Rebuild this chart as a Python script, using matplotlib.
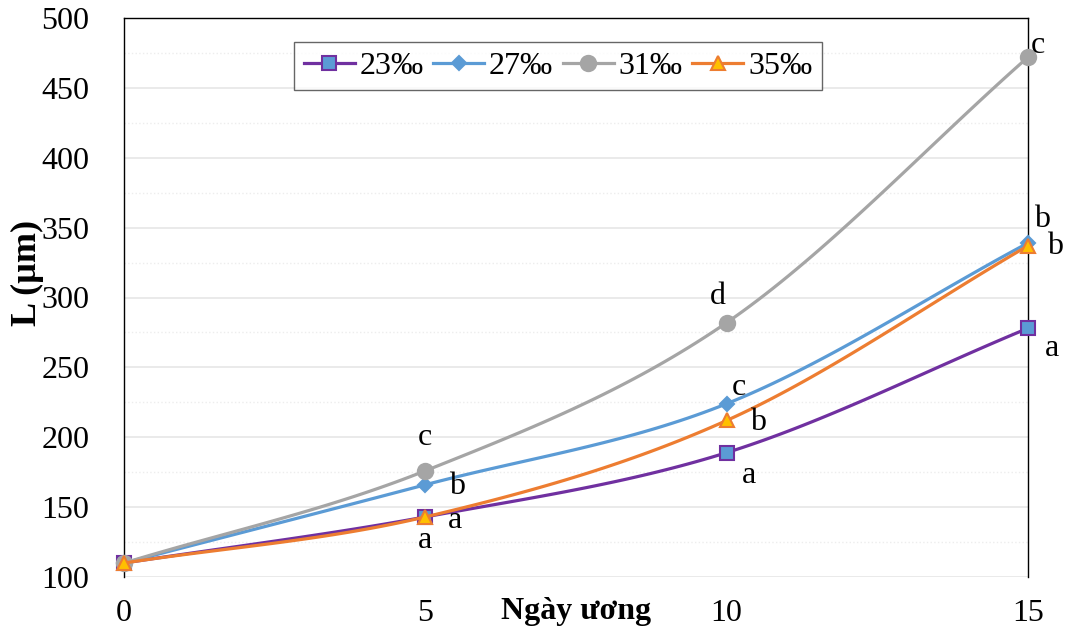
import numpy as np
import matplotlib.pyplot as plt
from matplotlib.ticker import MultipleLocator

# data
days = [0, 5, 10, 15]
labels = ['23‰', '27‰', '31‰', '35‰']
len_23 = [110, 143, 189, 278]
len_27 = [110, 166, 224, 339]
len_31 = [110, 176, 282, 472]
len_35 = [110, 143, 212, 337]
letters_23 = ['', 'a', 'a', 'a']
letters_27 = ['', 'b', 'c', 'b']
letters_31 = ['', 'c', 'd', 'c']
letters_35 = ['', 'a', 'b', 'b']

plt.rcParams['font.family'] = ['Liberation Serif', 'DejaVu Serif']


def smooth(x, y, n=40):
    # Catmull-Rom curve through the points, like Excel's smoothed line
    x = np.asarray(x, float)
    y = np.asarray(y, float)
    px = np.concatenate([[2 * x[0] - x[1]], x, [2 * x[-1] - x[-2]]])
    py = np.concatenate([[2 * y[0] - y[1]], y, [2 * y[-1] - y[-2]]])
    xs, ys = [], []
    t = np.linspace(0, 1, n)
    for i in range(1, len(px) - 2):
        for p, out in ((px, xs), (py, ys)):
            p0, p1, p2, p3 = p[i - 1], p[i], p[i + 1], p[i + 2]
            out.extend(0.5 * ((2 * p1) + (-p0 + p2) * t
                              + (2 * p0 - 5 * p1 + 4 * p2 - p3) * t ** 2
                              + (-p0 + 3 * p1 - 3 * p2 + p3) * t ** 3))
    return xs, ys


fig = plt.figure(figsize=(10.7, 6.34), dpi=100)
ax = fig.add_axes([124 / 1070, 57 / 634, 904 / 1070, 559 / 634])

series = [
    (len_23, letters_23, '#7030A0', 's', '#5B9BD5', '#7030A0', 10),
    (len_27, letters_27, '#5B9BD5', 'D', '#5B9BD5', '#5B9BD5', 7),
    (len_31, letters_31, '#A5A5A5', 'o', '#A5A5A5', '#A5A5A5', 11),
    (len_35, letters_35, '#ED7D31', '^', '#FFC000', '#ED7D31', 10),
]

offsets = {
    (0, 1): (0, -24), (0, 2): (22, -23), (0, 3): (24, -20),
    (1, 1): (32, -2), (1, 2): (12, 16), (1, 3): (14, 23),
    (2, 1): (0, 33), (2, 2): (-9, 26), (2, 3): (10, 12),
    (3, 1): (30, -4), (3, 2): (31, -2), (3, 3): (27, -1),
}

handles = []
for k, (vals, lets, col, mk, fc, ec, ms) in enumerate(series):
    sx, sy = smooth(days, vals)
    ax.plot(sx, sy, color=col, lw=2.3, zorder=3 + k, clip_on=False)
    ax.plot(days, vals, ls='none', marker=mk, ms=ms, mfc=fc, mec=ec,
            mew=1.5, zorder=3 + k, clip_on=False)
    h, = ax.plot([], [], color=col, lw=2.3, marker=mk, ms=ms, mfc=fc,
                 mec=ec, mew=1.5, label=labels[k])
    handles.append(h)
    for i, let in enumerate(lets):
        if let:
            ax.annotate(let, (days[i], vals[i]), xytext=offsets[(k, i)],
                        textcoords='offset pixels', ha='center', va='center',
                        fontsize=23, zorder=10)

ax.set_xlim(0, 15)
ax.set_ylim(100, 500)
ax.set_xticks([0, 5, 10, 15])
ax.yaxis.set_major_locator(MultipleLocator(50))
ax.yaxis.set_minor_locator(MultipleLocator(25))
ax.grid(axis='y', which='major', color='#E6E6E6', lw=1.2)
ax.grid(axis='y', which='minor', color='#EDEDED', lw=1.0, ls=':')
ax.set_axisbelow(True)
ax.spines['bottom'].set_visible(False)
for s in ['left', 'top', 'right']:
    ax.spines[s].set_color('black')
    ax.spines[s].set_linewidth(1.0)
ax.tick_params(axis='both', which='both', length=0, labelsize=23)
ax.tick_params(axis='x', pad=16)
ax.tick_params(axis='y', pad=25)

ax.set_xlabel('Ngày ương', fontsize=23, fontweight='bold')
ax.xaxis.set_label_coords(0.5, -0.036)
ax.set_ylabel('L (µm)', fontsize=26, fontweight='bold')
ax.yaxis.set_label_coords(-0.088, 0.544)

leg = ax.legend(handles=handles, loc='center', bbox_to_anchor=(0.48, 0.914),
                ncol=4, fontsize=23, frameon=True, fancybox=False,
                handlelength=1.6, columnspacing=0.3, handletextpad=0.15,
                borderpad=0.3)
leg.get_frame().set_edgecolor('#404040')
leg.get_frame().set_linewidth(1.0)

fig.savefig('out.png', dpi=100)
